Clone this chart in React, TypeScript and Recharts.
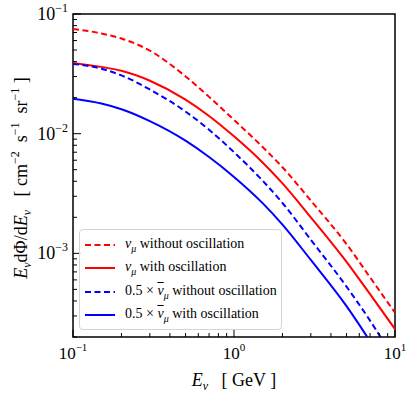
import { LineChart, Line, XAxis, YAxis, ReferenceArea } from "recharts";

// E_nu in GeV
const energies = [0.1, 0.15, 0.2, 0.3, 0.5, 0.7, 1, 1.5, 2, 3, 5, 7, 10];
// E dPhi/dE [cm^-2 s^-1 sr^-1]
const numuNoOsc = [0.075, 0.0688, 0.0624, 0.0494, 0.0301, 0.0203, 0.01303, 0.00778, 0.00524, 0.00276, 0.001195, 0.00063, 0.000319];
const numuOsc = [0.03905, 0.03615, 0.0335, 0.0277, 0.01928, 0.01407, 0.0095, 0.00577, 0.00384, 0.002, 0.00085, 0.000456, 0.000233];
const numubarNoOsc = [0.0383, 0.0349, 0.0307, 0.0234, 0.01531, 0.01078, 0.007, 0.00407, 0.002635, 0.0013, 0.000527, 0.000274, 0.000127];
const numubarOsc = [0.01957, 0.01785, 0.016, 0.01274, 0.00874, 0.00638, 0.00435, 0.00264, 0.00174, 0.000881, 0.000362, 0.000184, 0.0000853];

const xMajor = [0.1, 1, 10];
const xMinor = [0.2, 0.3, 0.4, 0.5, 0.6, 0.7, 0.8, 0.9, 2, 3, 4, 5, 6, 7, 8, 9];
const yMajor = [0.001, 0.01, 0.1];
const yMinor = [
  0.0002, 0.0003, 0.0004, 0.0005, 0.0006, 0.0007, 0.0008, 0.0009,
  0.002, 0.003, 0.004, 0.005, 0.006, 0.007, 0.008, 0.009,
  0.02, 0.03, 0.04, 0.05, 0.06, 0.07, 0.08, 0.09,
];

const series = [
  { key: "numuNoOsc", color: "#ff0000", dashed: true },
  { key: "numuOsc", color: "#ff0000", dashed: false },
  { key: "numubarNoOsc", color: "#0000ff", dashed: true },
  { key: "numubarOsc", color: "#0000ff", dashed: false },
];

const data = energies.map((e, i) => ({
  e,
  numuNoOsc: numuNoOsc[i],
  numuOsc: numuOsc[i],
  numubarNoOsc: numubarNoOsc[i],
  numubarOsc: numubarOsc[i],
}));

const FONT = "Liberation Serif";
const serif = { fontFamily: FONT };

const XTick = (props: any) => {
  const { x, y, payload } = props;
  const v = payload.value;
  const major = xMajor.includes(v);
  const p = Math.round(Math.log10(v));
  return (
    <g>
      <line x1={x} x2={x} y1={y} y2={y - (major ? 7 : 4)} stroke="#000" strokeWidth={1} />
      {major && (
        <text x={x} y={y + 22} textAnchor="middle" style={serif} fontSize={17} fill="#000">
          10<tspan dy={-8} fontSize={11}>{(p < 0 ? "\u2212" : "") + Math.abs(p)}</tspan>
        </text>
      )}
    </g>
  );
};

const YTick = (props: any) => {
  const { x, y, payload } = props;
  const v = payload.value;
  const major = yMajor.some((m) => Math.abs(m - v) < 1e-12);
  const p = Math.round(Math.log10(v));
  return (
    <g>
      <line x1={x} x2={x + (major ? 8 : 4)} y1={y} y2={y} stroke="#000" strokeWidth={1} />
      {major && (
        <text x={x - 5} y={y + 6} textAnchor="end" style={serif} fontSize={18} fill="#000">
          10<tspan dy={-8} fontSize={12}>{"\u2212" + Math.abs(p)}</tspan>
        </text>
      )}
    </g>
  );
};

const XTitle = () => (
  <text x={234} y={386} textAnchor="middle" style={{ ...serif, whiteSpace: "pre" }} fontSize={18} fill="#000">
    <tspan fontStyle="italic">E</tspan>
    <tspan dy={4} fontSize={12} fontStyle="italic">ν</tspan>
    <tspan dy={-4}>{"   [ GeV ]"}</tspan>
  </text>
);

const YTitle = () => (
  <text
    x={27}
    y={178}
    transform="rotate(-90, 27, 178)"
    textAnchor="middle"
    fontSize={18}
    fill="#000"
    style={{ ...serif, whiteSpace: "pre" }}
  >
    <tspan fontStyle="italic">E</tspan>
    <tspan dy={4} fontSize={12} fontStyle="italic">ν</tspan>
    <tspan dy={-4}>dΦ/d</tspan>
    <tspan fontStyle="italic">E</tspan>
    <tspan dy={4} fontSize={12} fontStyle="italic">ν</tspan>
    <tspan dy={-4}>{"   [ cm"}</tspan>
    <tspan dy={-8} fontSize={12}>{"\u22122"}</tspan>
    <tspan dy={8}>{"  s"}</tspan>
    <tspan dy={-8} fontSize={12}>{"\u22121"}</tspan>
    <tspan dy={8}>{"  sr"}</tspan>
    <tspan dy={-8} fontSize={12}>{"\u22121"}</tspan>
    <tspan dy={8}>{" ]"}</tspan>
  </text>
);

const legendRows = [
  { color: "#ff0000", dashed: true, pre: "", bar: false, text: " without oscillation" },
  { color: "#ff0000", dashed: false, pre: "", bar: false, text: " with oscillation" },
  { color: "#0000ff", dashed: true, pre: "0.5 × ", bar: true, text: " without oscillation" },
  { color: "#0000ff", dashed: false, pre: "0.5 × ", bar: true, text: " with oscillation" },
];

function LegendBox() {
  return (
    <div
      style={{
        position: "absolute",
        left: 79,
        top: 229,
        width: 203,
        height: 101,
        boxSizing: "border-box",
        border: "1px solid #d4d4d4",
        borderRadius: 4,
        background: "rgba(255,255,255,0.8)",
        fontFamily: FONT,
        fontSize: 14,
        color: "#000",
      }}
    >
      {legendRows.map((r, i) => (
        <div
          key={i}
          style={{ position: "absolute", left: 4, top: 5 + i * 23.3, height: 20, display: "flex", alignItems: "center", whiteSpace: "pre" }}
        >
          <svg width={31} height={20}>
            <line x1={1} x2={31} y1={10} y2={10} stroke={r.color} strokeWidth={2} strokeDasharray={r.dashed ? "6 3.5" : undefined} />
          </svg>
          <span style={{ marginLeft: 10 }}>
            {r.pre}
            <i style={{ textDecoration: r.bar ? "overline" : "none" }}>ν</i>
            <sub style={{ fontSize: 10, fontStyle: "italic" }}>μ</sub>
            {r.text}
          </span>
        </div>
      ))}
    </div>
  );
}

export default function App() {
  return (
    <div style={{ position: "absolute", left: 0, top: 0, width: 415, height: 393, background: "#fff", fontFamily: FONT }}>
      <LineChart width={415} height={393} data={data} margin={{ top: 14, right: 20, left: 0, bottom: 0 }}>
        <XAxis
          dataKey="e"
          type="number"
          scale="log"
          domain={[0.1, 10]}
          allowDataOverflow
          ticks={[...xMajor, ...xMinor]}
          interval={0}
          height={56}
          tickSize={0}
          tickMargin={0}
          tickLine={false}
          axisLine={false}
          tick={<XTick />}
          label={{ content: () => <XTitle /> }}
        />
        <YAxis
          type="number"
          scale="log"
          domain={[0.0002, 0.1]}
          allowDataOverflow
          ticks={[...yMajor, ...yMinor]}
          interval={0}
          width={73}
          tickSize={0}
          tickMargin={0}
          tickLine={false}
          axisLine={false}
          tick={<YTick />}
          label={{ content: () => <YTitle /> }}
        />
        {series.map((s) => (
          <Line
            key={s.key}
            dataKey={s.key}
            type="monotone"
            stroke={s.color}
            strokeWidth={2}
            strokeDasharray={s.dashed ? "6 3.5" : undefined}
            dot={false}
            isAnimationActive={false}
          />
        ))}
        <ReferenceArea x1={0.1} x2={10} y1={0.0002} y2={0.1} fill="none" stroke="#000" strokeWidth={1.5} ifOverflow="visible" />
      </LineChart>
      <LegendBox />
    </div>
  );
}
